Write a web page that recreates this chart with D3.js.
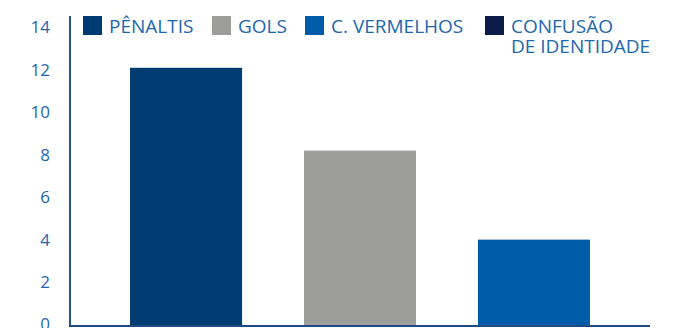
<!DOCTYPE html>
<html>
<head>
<meta charset="utf-8">
<script src="https://cdn.jsdelivr.net/npm/d3@7"></script>
<style>
  body { margin: 0; background: #fff; }
  svg { display: block; font-family: "Open Sans", sans-serif; }
</style>
</head>
<body>
<div id="chart"></div>
<script>

// categories + values (last one has no bar)
const categories = ['PÊNALTIS', 'GOLS', 'C. VERMELHOS', 'CONFUSÃO\nDE IDENTIDADE']
const values = [12.1, 8.2, 4, null]
const colors = ['#003b71', '#9d9d9c', '#005ca9', '#0c1a48']
const yTicks = [0, 2, 4, 6, 8, 10, 12, 14]


var width = 684;
var height = 328;

var svg = d3.select('#chart').append('svg')
    .attr('width', width)
    .attr('height', height)

const data = categories.map((c, i) => ({ name: c, value: values[i], color: colors[i] }))
const withBars = data.filter(d => d.value != null)

const x = d3.scaleBand()
    .domain(withBars.map(d => d.name))
    .range([70, 650])
    .paddingInner(0.356)
    .paddingOuter(0.345)

const y = d3.scaleLinear()
    .domain([0, 14])
    .range([324.5, 27.5])

// bars (run down under the axis line)
svg.append('g')
    .selectAll('rect')
    .data(withBars)
    .enter()
    .append('rect')
    .attr('x', d => x(d.name))
    .attr('y', d => y(d.value))
    .attr('width', x.bandwidth())
    .attr('height', d => y(0) - y(d.value) + 1.5)
    .attr('fill', d => d.color)

// y axis labels
const yAxis = d3.axisLeft(y)
    .tickValues(yTicks)
    .tickSize(0)
    .tickPadding(0)

const yG = svg.append('g')
    .attr('transform', 'translate(50,0)')
    .call(yAxis)

yG.select('.domain').remove()
yG.selectAll('text')
    .attr('fill', '#1d67ae')
    .attr('font-size', 17)
    .attr('font-family', '"Open Sans", sans-serif')

// axis lines
svg.append('line')
    .attr('x1', 70).attr('x2', 70)
    .attr('y1', 16).attr('y2', 326)
    .attr('stroke', '#27548a')
    .attr('stroke-width', 2)

svg.append('line')
    .attr('x1', 69).attr('x2', 650)
    .attr('y1', 326).attr('y2', 326)
    .attr('stroke', '#1f4a82')
    .attr('stroke-width', 2)

// legend
const legendX = [83, 212, 305, 485]

const legend = svg.append('g')
    .selectAll('g')
    .data(data)
    .enter()
    .append('g')
    .attr('transform', (d, i) => `translate(${legendX[i]},16)`)

legend.append('rect')
    .attr('width', 19)
    .attr('height', 19)
    .attr('fill', d => d.color)

legend.append('text')
    .attr('x', 26)
    .attr('y', 16.5)
    .attr('fill', '#1d67ae')
    .attr('font-size', 19)
    .selectAll('tspan')
    .data(d => d.name.split('\n'))
    .enter()
    .append('tspan')
    .attr('x', 26)
    .attr('dy', (d, i) => i == 0 ? 0 : 20.4)
    .text(d => d)

</script>
</body>
</html>
